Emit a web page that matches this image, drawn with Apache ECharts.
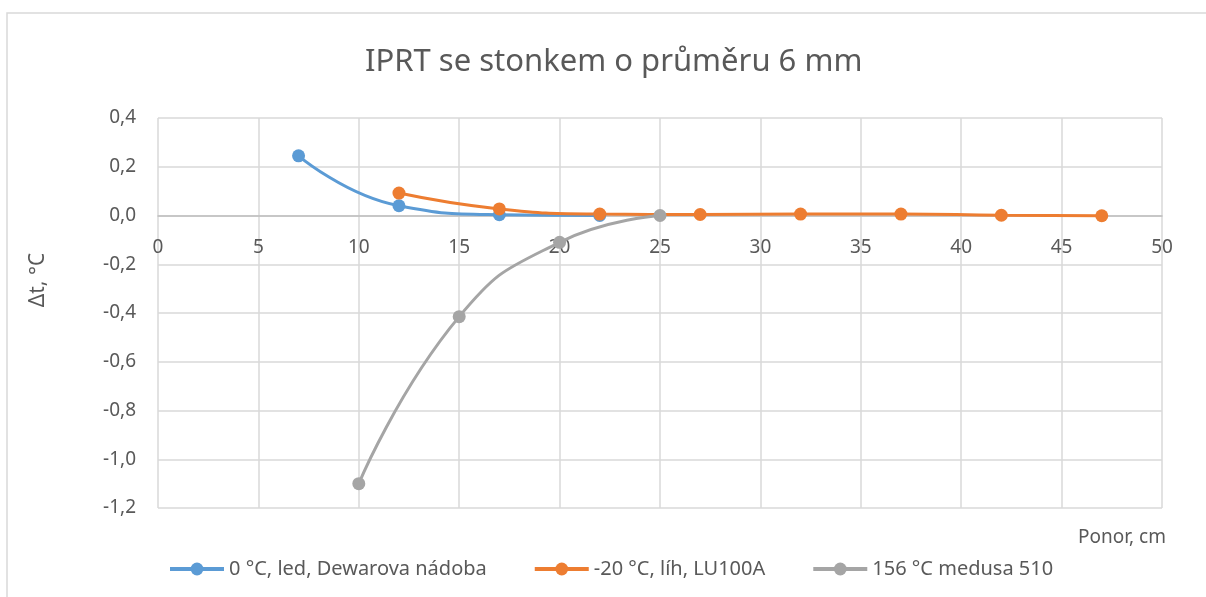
<!DOCTYPE html>
<html>
<head>
<meta charset="utf-8">
<script src="https://cdn.jsdelivr.net/npm/echarts@6/dist/echarts.min.js"></script>
<style>
  html, body { margin: 0; padding: 0; background: #fff; }
  #chart { width: 1206px; height: 597px; }
</style>
</head>
<body>
<div id="chart"></div>
<script>
// series data: [ponor cm, delta t]
const seriesNames = ["0 °C, led, Dewarova nádoba", "-20 °C, líh, LU100A", "156 °C medusa 510"];
const ledData = [[7, 0.245], [12, 0.04], [17, 0.003], [22, 0.0]];
const lihData = [[12, 0.092], [17, 0.027], [22, 0.006], [27, 0.004], [32, 0.006], [37, 0.006], [42, 0.001], [47, -0.001]];
const medusaData = [[10, -1.1], [15, -0.415], [20, -0.11], [25, 0.0]];
const colors = ["#5B9BD5", "#ED7D31", "#A5A5A5"];

const font = "Noto Sans";
let chart = echarts.init(document.getElementById("chart"));

function mkSeries(name, data, color) {
  return {
    name: name,
    type: "line",
    data: data,
    smooth: 0.5,
    symbol: "circle",
    symbolSize: 13,
    lineStyle: { color: color, width: 3 },
    itemStyle: { color: color },
    z: 3
  };
}

chart.setOption({
  animation: false,
  textStyle: { fontFamily: font },
  title: {
    text: "IPRT se stonkem o průměru 6 mm",
    left: 360,
    top: 42,
    textStyle: { fontFamily: font, fontSize: 31, fontWeight: "normal", color: "#595959" }
  },
  grid: { left: 158, right: 44, top: 118, bottom: 89 },
  legend: {
    left: 163,
    top: 554,
    itemGap: 46,
    itemWidth: 54,
    itemHeight: 16,
    lineStyle: { width: 4 },
    textStyle: { fontFamily: font, fontSize: 20, color: "#595959" },
    data: seriesNames
  },
  xAxis: {
    type: "value",
    min: 0,
    max: 50,
    interval: 5,
    axisLine: { onZero: true, lineStyle: { color: "#BFBFBF", width: 1.5 } },
    axisTick: { show: false },
    // labels sit just under the zero line, as in the reference
    axisLabel: { color: "#595959", fontSize: 19, fontFamily: font, margin: -270 },
    splitLine: { show: true, lineStyle: { color: "#D9D9D9", width: 1.5 } }
  },
  yAxis: {
    type: "value",
    min: -1.2,
    max: 0.4,
    interval: 0.2,
    axisLine: { show: false },
    axisTick: { show: false },
    axisLabel: {
      color: "#595959", fontSize: 19, fontFamily: font, margin: 22,
      formatter: v => v.toFixed(1).replace(".", ",").replace("-0,0", "0,0")
    },
    splitLine: { show: true, lineStyle: { color: "#D9D9D9", width: 1.5 } }
  },
  graphic: [
    {
      type: "rect",
      shape: { x: 7, y: 13, width: 1210, height: 600 },
      style: { fill: null, stroke: "#D9D9D9", lineWidth: 1.5 },
      z: -1
    },
    {
      type: "text",
      x: 38,
      y: 280,
      rotation: Math.PI / 2,
      style: { text: "Δt, °C", fontFamily: font, fontSize: 21, fill: "#595959", align: "center", verticalAlign: "middle" }
    },
    {
      type: "text",
      right: 40,
      top: 528,
      style: { text: "Ponor, cm", fontFamily: font, fontSize: 19, fill: "#595959" }
    }
  ],
  series: [
    mkSeries(seriesNames[0], ledData, colors[0]),
    mkSeries(seriesNames[1], lihData, colors[1]),
    mkSeries(seriesNames[2], medusaData, colors[2])
  ]
});
</script>
</body>
</html>
